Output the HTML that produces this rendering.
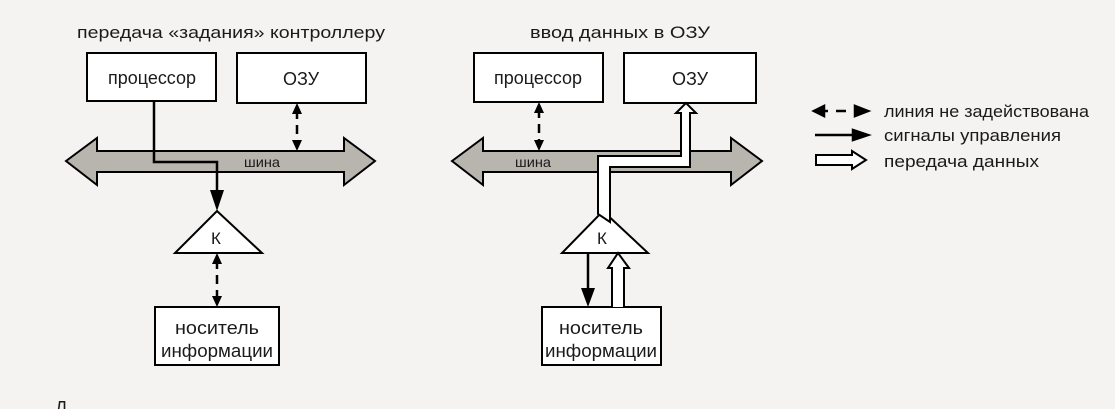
<!DOCTYPE html>
<html><head><meta charset="utf-8"><style>
html,body{margin:0;padding:0;background:#f4f3f1;}
svg{display:block;}
text{font-family:"Liberation Sans","DejaVu Sans",sans-serif;fill:#1a1a1a;}
</style></head><body>
<svg width="1115" height="409" viewBox="0 0 1115 409" xmlns="http://www.w3.org/2000/svg">
<defs>
<marker id="ah" viewBox="0 0 10 10" refX="10" refY="5" markerWidth="4" markerHeight="4" orient="auto-start-reverse"><path d="M0,0L10,5L0,10z" fill="#000"/></marker>
</defs>
<rect width="1115" height="409" fill="#f4f3f1"/>
<text x="77" y="38" font-size="17" textLength="308" lengthAdjust="spacingAndGlyphs">передача «задания» контроллеру</text>
<text x="530" y="38" font-size="17" textLength="180" lengthAdjust="spacingAndGlyphs">ввод данных в ОЗУ</text>

<g stroke="#000" stroke-width="2" fill="#fff">
<rect x="87" y="53" width="129" height="48"/>
<rect x="237" y="53" width="129" height="50"/>
<path d="M66,161 L97,138 L97,151 L344,151 L344,138 L375,161 L344,185 L344,172 L97,172 L97,185 Z" fill="#b8b4ae"/>
<polygon points="217,211 262,253 175,253"/>
<rect x="155" y="307" width="124" height="58"/>
<rect x="474" y="53" width="129" height="49"/>
<rect x="624" y="53" width="132" height="50"/>
<path d="M452,161 L483,138 L483,151 L731,151 L731,138 L762,161 L731,185 L731,172 L483,172 L483,185 Z" fill="#b8b4ae"/>
<polygon points="603,211 648,253 562,253"/>
<rect x="542" y="307" width="119" height="58"/>
</g>
<text x="244" y="167" font-size="14" textLength="36" lengthAdjust="spacingAndGlyphs">шина</text>
<text x="515" y="167" font-size="14" textLength="36" lengthAdjust="spacingAndGlyphs">шина</text>
<text x="152" y="84" font-size="18" text-anchor="middle" textLength="88" lengthAdjust="spacingAndGlyphs">процессор</text>
<text x="301" y="85" font-size="18" text-anchor="middle">ОЗУ</text>
<text x="211" y="244" font-size="17">К</text>
<text x="217" y="334" font-size="18" text-anchor="middle" textLength="84" lengthAdjust="spacingAndGlyphs">носитель</text>
<text x="217" y="357" font-size="18" text-anchor="middle" textLength="112" lengthAdjust="spacingAndGlyphs">информации</text>
<text x="538" y="84" font-size="18" text-anchor="middle" textLength="88" lengthAdjust="spacingAndGlyphs">процессор</text>
<text x="690" y="85" font-size="18" text-anchor="middle">ОЗУ</text>
<text x="597" y="244" font-size="17">К</text>
<text x="601" y="334" font-size="18" text-anchor="middle" textLength="84" lengthAdjust="spacingAndGlyphs">носитель</text>
<text x="601" y="357" font-size="18" text-anchor="middle" textLength="112" lengthAdjust="spacingAndGlyphs">информации</text>

<g stroke="#000" stroke-width="2.5" fill="none">
<path d="M154,101 V162 H217 V196"/>
<path d="M297,110 V144" stroke-dasharray="9,6"/>
<path d="M217,260 V300" stroke-dasharray="9,6"/>
<path d="M539,109 V144" stroke-dasharray="9,6"/>
<path d="M588,253 V292"/>
</g>
<g fill="#000">
<polygon points="297,103 292,114 302,114"/><polygon points="297,151 292,140 302,140"/>
<polygon points="217,253 212,264 222,264"/><polygon points="217,307 212,296 222,296"/>
<polygon points="539,102 534,113 544,113"/><polygon points="539,151 534,140 544,140"/>
</g>
<polygon points="210,190 224,190 217,211" fill="#000"/>
<polygon points="581,288 595,288 588,307" fill="#000"/>
<path d="M598,214 V156 H681 V113 H676 L686,103 L696,113 H690 V167 H610 V222 Z" fill="#fff" stroke="#000" stroke-width="2" stroke-linejoin="miter"/>
<path d="M612,307 V268 H608 L618,253 L629,268 H624 V307" fill="#fff" stroke="#000" stroke-width="2"/>

<g stroke="#000" stroke-width="2.5">
<path d="M817,111 H828 M836,111 H846" />
<polygon points="814,111 824,106 824,116" fill="#000"/>
<polygon points="868,111 855,106 855,116" fill="#000"/>
<path d="M815,135 H856"/>
<polygon points="868,135 853,130 853,140" fill="#000"/>
</g>
<path d="M816,155 H852 V151 L866,160 L852,169 V165 H816 Z" fill="#fff" stroke="#000" stroke-width="2"/>
<text x="884" y="117" font-size="17" textLength="205" lengthAdjust="spacingAndGlyphs">линия не задействована</text>
<text x="884" y="141" font-size="17" textLength="177" lengthAdjust="spacingAndGlyphs">сигналы управления</text>
<text x="884" y="167" font-size="17" textLength="155" lengthAdjust="spacingAndGlyphs">передача данных</text>
<text x="55" y="414" font-size="18">Д</text>
</svg>
</body></html>
